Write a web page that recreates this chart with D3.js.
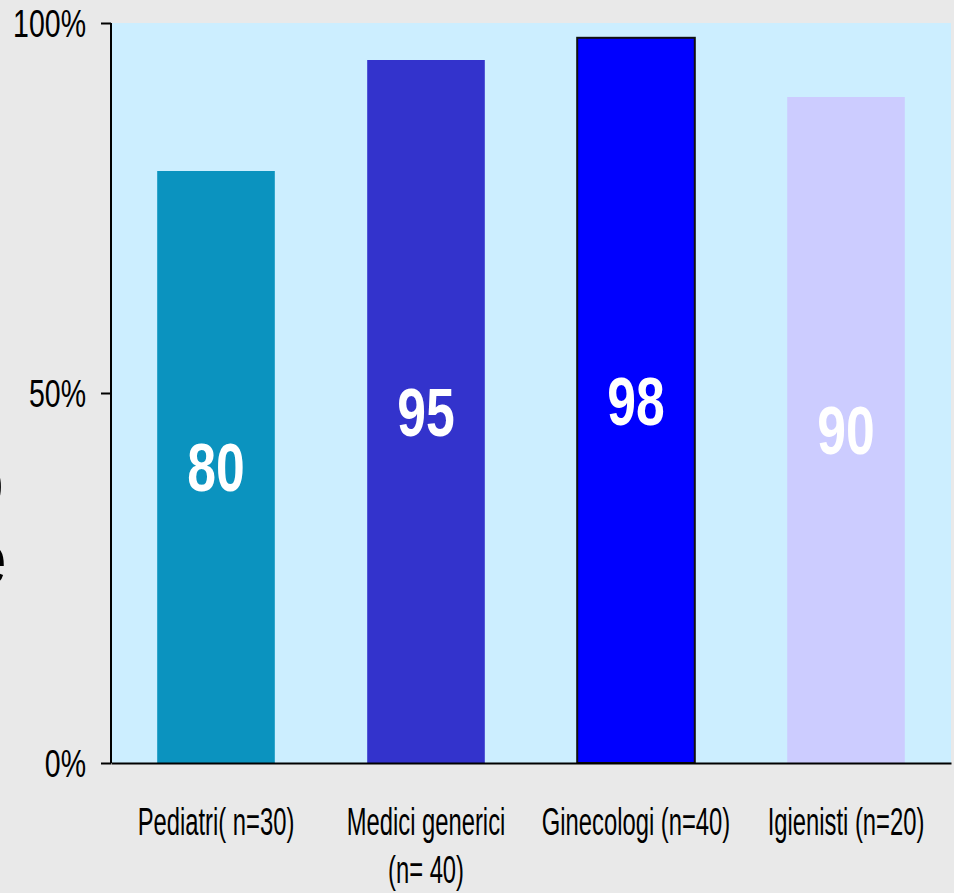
<!DOCTYPE html>
<html>
<head>
<meta charset="UTF-8">
<script src="https://cdn.jsdelivr.net/npm/d3@7"></script>
<style>
    html, body { margin: 0; padding: 0; background: #e9e9e9; }
    svg { display: block; }
    text { font-family: "Liberation Sans", Arial, sans-serif; }
</style>
</head>
<body>
<div id="chart"></div>
<script>
// data
var categories = ["Pediatri( n=30)", "Medici generici|(n= 40)", "Ginecologi (n=40)", "Igienisti (n=20)"];
var values = [80, 95, 98, 90];
var barColors = ["#0b93bf", "#3333cc", "#0000ff", "#ccccff"];
var yTicks = [0, 50, 100];
// title on the left, mostly outside the picture
var titleLines = ["% di consenso", "favorevole"];

var width = 954, height = 893;
var margin = { top: 23, right: 3, bottom: 130, left: 111 };
var w = width - margin.left - margin.right,
    h = height - margin.top - margin.bottom;

var svg = d3.select("#chart")
    .append("svg")
    .attr("width", width)
    .attr("height", height);

svg.append("rect")
    .attr("width", width)
    .attr("height", height)
    .attr("fill", "#e9e9e9");

var x = d3.scaleBand()
    .domain(categories)
    .range([0, w])
    .paddingInner(0.44)
    .paddingOuter(0.22);

var y = d3.scaleLinear().domain([0, 100]).range([h, 0]);

var g = svg.append("g")
    .attr("transform", "translate(" + margin.left + "," + margin.top + ")");

// plot background
g.append("rect")
    .attr("x", 0)
    .attr("y", 0)
    .attr("width", w)
    .attr("height", h)
    .attr("fill", "#cceeff");

// bars
g.selectAll(".bar")
    .data(values)
    .enter().append("rect")
    .attr("class", "bar")
    .attr("x", function (d, i) { return x(categories[i]); })
    .attr("y", function (d) { return y(d); })
    .attr("width", x.bandwidth())
    .attr("height", function (d) { return h - y(d); })
    .attr("fill", function (d, i) { return barColors[i]; })
    .attr("stroke", function (d, i) { return i === 2 ? "#111" : "none"; })
    .attr("stroke-width", 2);

// value labels, middle of each bar
g.selectAll(".val")
    .data(values)
    .enter().append("text")
    .attr("class", "val")
    .attr("transform", function (d, i) {
        var cx = x(categories[i]) + x.bandwidth() / 2;
        var cy = (y(d) + h) / 2;
        return "translate(" + cx + "," + cy + ") scale(0.76,1)";
    })
    .attr("text-anchor", "middle")
    .attr("dy", "0.36em")
    .attr("font-size", 68)
    .attr("font-weight", "bold")
    .attr("fill", "#fff")
    .text(function (d) { return d; });

// y axis
var yAxis = d3.axisLeft(y)
    .tickValues(yTicks)
    .tickSize(10)
    .tickPadding(15)
    .tickFormat(function (d) { return d + "%"; });

var ya = g.append("g").attr("class", "y axis").call(yAxis);
ya.select(".domain").remove();
ya.append("line")
    .attr("x1", 0).attr("x2", 0)
    .attr("y1", 0).attr("y2", h)
    .attr("stroke", "#000").attr("stroke-width", 2);
ya.selectAll(".tick line").attr("stroke", "#000").attr("stroke-width", 2);
ya.selectAll(".tick text")
    .attr("font-size", 38)
    .attr("fill", "#000")
    .attr("dy", "0.36em")
    .attr("transform", function () {
        var tx = +d3.select(this).attr("x");
        return "translate(" + tx + ",0) scale(0.75,1)";
    })
    .attr("x", 0);
ya.attr("font-family", null);

// x axis
var xAxis = d3.axisBottom(x).tickSize(0).tickFormat("");
var xa = g.append("g")
    .attr("class", "x axis")
    .attr("transform", "translate(0," + h + ")")
    .call(xAxis);
xa.select(".domain").attr("stroke", "#000").attr("stroke-width", 2);

// category labels, split on "|"
var labels = g.selectAll(".cat")
    .data(categories)
    .enter().append("text")
    .attr("class", "cat")
    .attr("transform", function (d) {
        return "translate(" + (x(d) + x.bandwidth() / 2) + "," + (h + 72) + ") scale(0.61,1)";
    })
    .attr("text-anchor", "middle")
    .attr("font-size", 39)
    .attr("fill", "#000");
labels.each(function (d) {
    var parts = d.split("|");
    d3.select(this).selectAll("tspan")
        .data(parts)
        .enter().append("tspan")
        .attr("x", 0)
        .attr("dy", function (p, i) { return i ? 48 : 0; })
        .text(function (p) { return p; });
});

// clipped title on the far left (cut off in the original too)
svg.selectAll(".title")
    .data(titleLines)
    .enter().append("text")
    .attr("class", "title")
    .attr("transform", function (d, i) {
        return "translate(" + (i ? 6 : 3) + "," + (505 + i * 78) + ") scale(0.72,1)";
    })
    .attr("text-anchor", "end")
    .attr("font-size", 68)
    .attr("fill", "#000")
    .text(function (d) { return d; });
</script>
</body>
</html>
